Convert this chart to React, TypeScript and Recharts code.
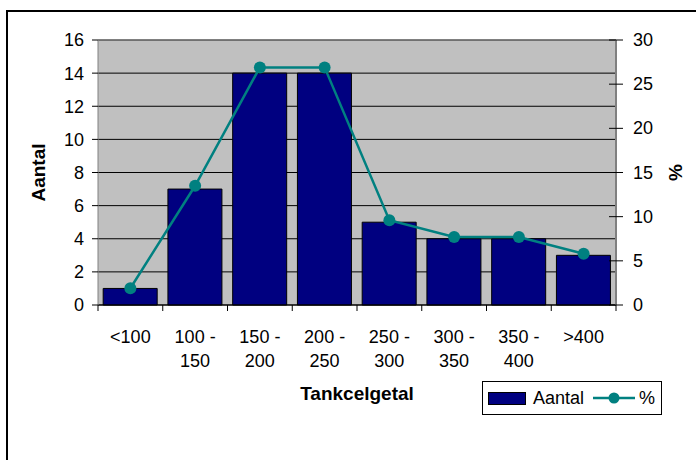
import { ComposedChart, Bar, Line, XAxis, YAxis, CartesianGrid, Legend, ReferenceLine } from 'recharts';

const categories = ['<100', '100 -\n150', '150 -\n200', '200 -\n250', '250 -\n300', '300 -\n350', '350 -\n400', '>400'];
const aantal = [1, 7, 14, 14, 5, 4, 4, 3];
const percent = [1.9, 13.5, 26.9, 26.9, 9.6, 7.7, 7.7, 5.8];
const leftTicks = [0, 2, 4, 6, 8, 10, 12, 14, 16];
const rightTicks = [0, 5, 10, 15, 20, 25, 30];

const data = categories.map((name, i) => ({ name, aantal: aantal[i], pct: percent[i] }));

const FONT = '"Liberation Sans", Arial, sans-serif';
const PLOT_W = 518;
const HALF = PLOT_W / categories.length / 2;

function CatTick(props: any) {
  const { x, y, payload, index } = props;
  const lines = String(payload.value).split('\n');
  return (
    <g>
      <line x1={x - HALF} x2={x - HALF} y1={y} y2={y + 6} stroke="#000" />
      {index === categories.length - 1 && <line x1={x + HALF} x2={x + HALF} y1={y} y2={y + 6} stroke="#000" />}
      <text x={x} y={y + 38} textAnchor="middle" fontSize={18} fontFamily={FONT} fill="#000">
        {lines.map((l, i) => (
          <tspan key={i} x={x} dy={i ? 24 : 0}>{l}</tspan>
        ))}
      </text>
    </g>
  );
}

function RightTick(props: any) {
  const { x, y, payload } = props;
  return (
    <g>
      <line x1={x - 7} x2={x + 7} y1={y} y2={y} stroke="#000" />
      <text x={x + 17} y={y + 6} textAnchor="start" fontSize={18} fontFamily={FONT} fill="#000">{payload.value}</text>
    </g>
  );
}

function LegendBox() {
  return (
    <div style={{ position: 'relative', border: '1px solid #000', width: 178, height: 32, fontFamily: FONT, fontSize: 18, color: '#000' }}>
      <span style={{ position: 'absolute', left: 5, top: 10, width: 36, height: 11, background: '#000080', border: '1px solid #000' }} />
      <span style={{ position: 'absolute', left: 50, top: 6, lineHeight: '20px' }}>Aantal</span>
      <svg width={42} height={14} style={{ position: 'absolute', left: 110, top: 9 }}>
        <line x1={0} x2={42} y1={7} y2={7} stroke="#008080" strokeWidth={2.5} />
        <circle cx={21} cy={7} r={5.5} fill="#008080" />
      </svg>
      <span style={{ position: 'absolute', left: 156, top: 6, lineHeight: '20px' }}>%</span>
    </div>
  );
}

export default function App() {
  return (
    <div style={{ position: 'absolute', left: 0, top: 0, width: 696, height: 460, background: '#fff', overflow: 'hidden' }}>
      <div style={{ position: 'absolute', left: 6, top: 10, width: 700, height: 460, borderTop: '2px solid #000', borderLeft: '2px solid #000' }} />
      <div style={{ position: 'absolute', left: 0, top: 0 }}>
        <ComposedChart width={696} height={460} data={data} margin={{ top: 40, right: 0, left: 0, bottom: 45 }} barCategoryGap="8%">
          <CartesianGrid yAxisId="left" horizontal vertical={false} stroke="#000" fill="#c0c0c0" fillOpacity={1} />
          <XAxis
            dataKey="name"
            height={110}
            interval={0}
            tickSize={0}
            tickMargin={0}
            tickLine={false}
            tick={<CatTick />}
            axisLine={{ stroke: '#000' }}
            label={{ value: 'Tankcelgetal', position: 'insideTop', offset: 82, fontSize: 19, fontWeight: 'bold', fontFamily: FONT, fill: '#000' }}
          />
          <YAxis
            yAxisId="left"
            width={98}
            domain={[0, 16]}
            ticks={leftTicks}
            interval={0}
            tickSize={6}
            tickMargin={8}
            axisLine={{ stroke: '#808080' }}
            tickLine={{ stroke: '#000' }}
            tick={{ fontSize: 18, fontFamily: FONT, fill: '#000' }}
            label={{ value: 'Aantal', angle: -90, position: 'center', dx: -11, fontSize: 19, fontWeight: 'bold', fontFamily: FONT, fill: '#000' }}
          />
          <YAxis
            yAxisId="right"
            orientation="right"
            width={80}
            domain={[0, 30]}
            ticks={rightTicks}
            interval={0}
            tickSize={0}
            tickMargin={0}
            axisLine={{ stroke: '#808080', strokeWidth: 2 }}
            tickLine={false}
            tick={<RightTick />}
            label={{ value: '%', angle: -90, position: 'center', dx: 19, fontSize: 19, fontWeight: 'bold', fontFamily: FONT, fill: '#000' }}
          />
          <ReferenceLine yAxisId="left" y={16} stroke="#808080" />
          <Bar yAxisId="left" dataKey="aantal" name="Aantal" fill="#000080" stroke="#000" strokeWidth={1} isAnimationActive={false} />
          <Line
            yAxisId="right"
            dataKey="pct"
            name="%"
            type="linear"
            stroke="#008080"
            strokeWidth={2.5}
            dot={{ r: 6, fill: '#008080', stroke: 'none' }}
            isAnimationActive={false}
          />
          <Legend layout="vertical" align="center" verticalAlign="middle" content={<LegendBox />} wrapperStyle={{ position: 'absolute', left: 482, top: 381, width: 'auto' }} />
        </ComposedChart>
      </div>
    </div>
  );
}
